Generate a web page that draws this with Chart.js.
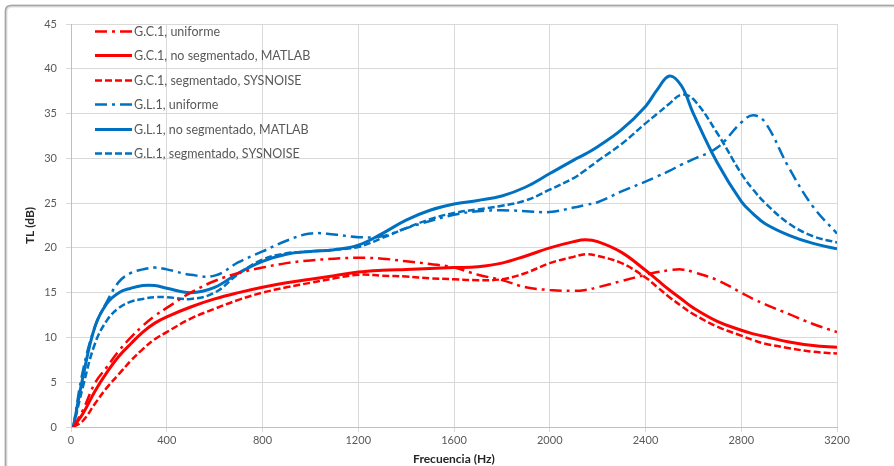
<!DOCTYPE html>
<html>
<head>
<meta charset="utf-8">
<script src="https://cdn.jsdelivr.net/npm/chart.js@4.4.1/dist/chart.umd.min.js"></script>
<style>
  html, body { margin: 0; padding: 0; background: #ffffff; }
  #wrap { position: relative; width: 894px; height: 466px; overflow: hidden; }
</style>
</head>
<body>
<div id="wrap"><canvas id="tl" width="894" height="466"></canvas></div>
<script>
// Frequency grid (Hz) shared by all six curves
const freqHz = [10, 50, 100, 150, 200, 250, 300, 350, 400, 500, 600, 700, 800, 900, 1000,
  1100, 1200, 1300, 1400, 1500, 1600, 1700, 1800, 1900, 2000, 2100, 2150, 2200, 2300, 2400,
  2450, 2500, 2550, 2600, 2700, 2800, 2850, 2900, 3000, 3100, 3200];

// Transmission loss TL (dB), geometry G.C.1
const gc1Uniforme = [0, 1.9, 4.9, 6.7, 8.5, 10.0, 11.3, 12.4, 13.3, 15.0, 16.3, 17.2, 17.8, 18.3, 18.6,
  18.8, 18.9, 18.8, 18.5, 18.2, 17.8, 17.0, 16.4, 15.6, 15.3, 15.2, 15.3, 15.6, 16.3, 17.0,
  17.3, 17.5, 17.6, 17.3, 16.4, 15.0, 14.3, 13.7, 12.6, 11.5, 10.6];
const gc1Matlab = [0, 1.5, 4.0, 6.1, 7.9, 9.3, 10.6, 11.6, 12.3, 13.4, 14.3, 15.0, 15.6, 16.1, 16.5,
  16.9, 17.3, 17.5, 17.6, 17.7, 17.8, 17.9, 18.3, 19.1, 20.0, 20.7, 20.9, 20.7, 19.5, 17.5,
  16.4, 15.3, 14.3, 13.3, 11.8, 10.8, 10.4, 10.1, 9.5, 9.1, 8.9];
const gc1Sysnoise = [0, 0.7, 2.6, 4.4, 5.9, 7.4, 8.7, 9.8, 10.6, 12.1, 13.2, 14.2, 15.0, 15.6, 16.1,
  16.6, 17.0, 16.9, 16.8, 16.6, 16.5, 16.4, 16.5, 17.2, 18.3, 19.0, 19.3, 19.1, 18.3, 16.7,
  15.6, 14.5, 13.5, 12.6, 11.2, 10.2, 9.7, 9.3, 8.8, 8.4, 8.2];

// Transmission loss TL (dB), geometry G.L.1
const gl1Uniforme = [0, 6.3, 11.2, 14.0, 16.2, 17.2, 17.6, 17.8, 17.6, 17.0, 16.9, 18.4, 19.6, 20.8, 21.6,
  21.5, 21.2, 21.3, 22.2, 23.0, 23.7, 24.1, 24.2, 24.1, 24.0, 24.5, 24.8, 25.1, 26.3, 27.4,
  28.0, 28.6, 29.3, 29.9, 31.2, 34.0, 34.8, 34.0, 28.9, 24.6, 21.6];
const gl1Matlab = [0, 5.6, 11.2, 13.8, 15.0, 15.5, 15.8, 15.8, 15.5, 15.0, 15.6, 17.2, 18.5, 19.3, 19.6,
  19.8, 20.3, 21.6, 23.1, 24.2, 24.9, 25.3, 25.8, 26.8, 28.3, 29.8, 30.5, 31.3, 33.2, 35.8,
  37.7, 39.2, 38.1, 35.0, 29.5, 25.2, 23.8, 22.7, 21.4, 20.5, 19.9];
const gl1Sysnoise = [0, 4.5, 9.3, 11.9, 13.3, 14.0, 14.3, 14.5, 14.5, 14.3, 15.0, 17.1, 18.7, 19.4, 19.6,
  19.8, 20.1, 21.1, 22.2, 23.2, 23.9, 24.3, 24.7, 25.3, 26.5, 27.8, 28.7, 29.7, 31.6, 33.9,
  35.0, 36.1, 37.1, 36.6, 32.8, 28.3, 26.5, 25.0, 22.7, 21.3, 20.6];

// Legend texts and axis titles
const seriesLabels = [
  'G.C.1, uniforme',
  'G.C.1, no segmentado, MATLAB',
  'G.C.1, segmentado, SYSNOISE',
  'G.L.1, uniforme',
  'G.L.1, no segmentado, MATLAB',
  'G.L.1, segmentado, SYSNOISE'
];
const xTitle = 'Frecuencia (Hz)';
const yTitle = 'TL (dB)';

const RED = '#ff0000';
const BLUE = '#0070c0';
const DASH = [7, 3];
const DASH_DOT = [12, 5, 3, 5];

function pts(values) {
  return values.map((v, i) => ({ x: freqHz[i], y: v }));
}

function series(label, values, color, dash, width) {
  return {
    label,
    data: pts(values),
    borderColor: color,
    backgroundColor: color,
    borderDash: dash,
    borderWidth: width,
    borderCapStyle: 'butt',
    pointRadius: 0,
    tension: 0.4,
    fill: false
  };
}

// Gray frame around the whole figure
const framePlugin = {
  id: 'frame',
  beforeDraw(chart) {
    const ctx = chart.ctx;
    ctx.save();
    ctx.fillStyle = '#ffffff';
    ctx.fillRect(0, 0, chart.width, chart.height);
    ctx.strokeStyle = 'rgba(0,0,0,0.12)';
    ctx.lineWidth = 3;
    ctx.beginPath();
    ctx.moveTo(6, chart.height + 10);
    ctx.lineTo(6, 12);
    ctx.quadraticCurveTo(6, 6, 12, 6);
    ctx.lineTo(chart.width + 10, 6);
    ctx.stroke();
    ctx.strokeStyle = '#a6a6a6';
    ctx.lineWidth = 1.5;
    ctx.beginPath();
    ctx.moveTo(5.5, chart.height + 10);
    ctx.lineTo(5.5, 11);
    ctx.quadraticCurveTo(5.5, 5.5, 11, 5.5);
    ctx.lineTo(chart.width + 10, 5.5);
    ctx.stroke();
    ctx.restore();
  }
};

// Legend drawn inside the plot area, top-left, over the grid
const insideLegend = {
  id: 'insideLegend',
  afterDatasetsDraw(chart) {
    const ctx = chart.ctx;
    const area = chart.chartArea;
    const x0 = area.left + 24;
    const lineLen = 37;
    const y0 = area.top + 7;
    const step = 24.4;
    ctx.save();
    ctx.font = '12.5px Lato, "Open Sans", sans-serif';
    ctx.textBaseline = 'middle';
    ctx.textAlign = 'left';
    chart.data.datasets.forEach((ds, i) => {
      const y = Math.round(y0 + i * step) + 0.5;
      ctx.strokeStyle = ds.borderColor;
      ctx.lineWidth = ds.borderWidth;
      ctx.setLineDash(ds.borderDash || []);
      ctx.lineCap = 'butt';
      ctx.beginPath();
      ctx.moveTo(x0, y);
      ctx.lineTo(x0 + lineLen, y);
      ctx.stroke();
      ctx.setLineDash([]);
      ctx.fillStyle = '#595959';
      ctx.fillText(ds.label, x0 + lineLen + 2, y);
    });
    ctx.restore();
  }
};

const tickFont = { family: 'Lato, "Open Sans", sans-serif', size: 11 };
const titleFont = { family: 'Lato, "Open Sans", sans-serif', size: 12, weight: 'bold' };

new Chart(document.getElementById('tl'), {
  type: 'line',
  data: {
    datasets: [
      series(seriesLabels[0], gc1Uniforme, RED, DASH_DOT, 2.5),
      series(seriesLabels[1], gc1Matlab, RED, [], 3),
      series(seriesLabels[2], gc1Sysnoise, RED, DASH, 2.5),
      series(seriesLabels[3], gl1Uniforme, BLUE, DASH_DOT, 2.5),
      series(seriesLabels[4], gl1Matlab, BLUE, [], 3),
      series(seriesLabels[5], gl1Sysnoise, BLUE, DASH, 2.5)
    ]
  },
  options: {
    responsive: false,
    animation: false,
    devicePixelRatio: 1,
    layout: { padding: { left: 0, top: 24, right: 57, bottom: 0 } },
    plugins: {
      legend: { display: false },
      tooltip: { enabled: false }
    },
    scales: {
      x: {
        type: 'linear',
        min: 0,
        max: 3200,
        afterFit(scale) { scale.height = 39; },
        ticks: {
          stepSize: 400, color: '#595959', font: tickFont, padding: 2, maxRotation: 0,
          callback: (v) => String(v)
        },
        grid: { color: '#d9d9d9', tickLength: 5, lineWidth: 1 },
        border: { color: '#bfbfbf' },
        title: { display: true, text: xTitle, color: '#262626', font: titleFont, padding: { top: 0, bottom: 0 } }
      },
      y: {
        min: 0,
        max: 45,
        afterFit(scale) { scale.width = 71; },
        ticks: { stepSize: 5, color: '#595959', font: tickFont, padding: 9, callback: (v) => String(v) },
        grid: { color: '#d9d9d9', tickLength: 5, lineWidth: 1 },
        border: { color: '#bfbfbf' },
        title: { display: true, text: yTitle, color: '#262626', font: titleFont, padding: { top: 23, bottom: 0 } }
      }
    }
  },
  plugins: [framePlugin, insideLegend]
});
</script>
</body>
</html>
